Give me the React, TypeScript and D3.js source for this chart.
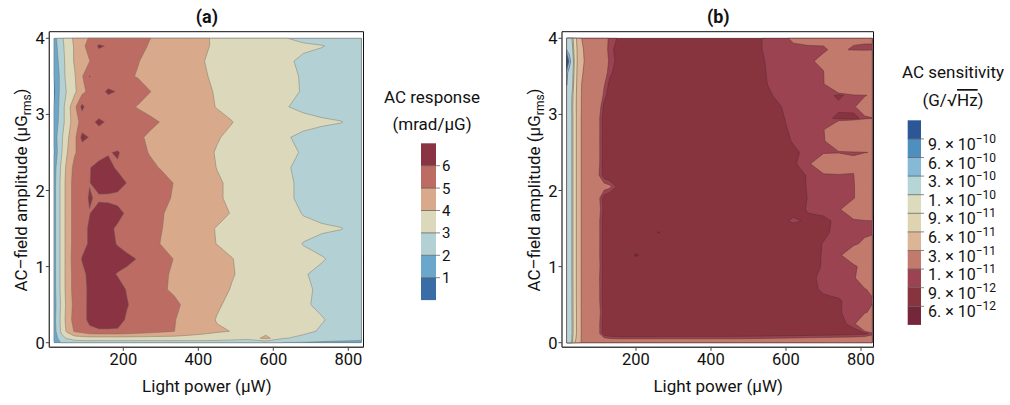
import React from "react";
import * as d3 from "d3";

// ---------------- Panel (a): AC response (mrad/µG) ----------------
const powerA = [15, 25, 35, 50, 70, 90, 110, 135, 160, 185, 210, 240, 270, 300, 335, 370, 410, 450, 490, 530, 580, 630, 680, 730, 780, 835];
const fieldA = [0, 0.06, 0.15, 0.3, 0.5, 0.7, 0.9, 1.1, 1.3, 1.5, 1.7, 1.9, 2.1, 2.3, 2.5, 2.7, 2.9, 3.1, 3.3, 3.5, 3.7, 3.9, 4.0];
const responseA = [
  [0.9, 1.6, 2.1, 2.3, 2.4, 2.5, 2.5, 2.5, 2.5, 2.5, 2.5, 2.5, 2.5, 2.5, 2.5, 2.5, 2.5, 2.5, 2.4, 2.3, 2.2, 1.95, 1.9, 1.8, 1.7, 1.6],
  [1.2, 2.0, 2.7, 3.1, 3.5, 3.6, 3.6, 3.6, 3.6, 3.6, 3.6, 3.6, 3.6, 3.6, 3.6, 3.6, 3.6, 3.5, 3.4, 3.3, 4.3, 3.05, 2.8, 2.6, 2.5, 2.4],
  [1.5, 2.4, 3.2, 4.2, 5.1, 5.4, 5.8, 5.9, 5.9, 5.9, 5.8, 5.6, 5.4, 5.2, 5.02, 4.6, 4.3, 4.1, 3.98, 3.8, 3.6, 3.4, 3.2, 2.9, 2.7, 2.5],
  [1.6, 2.5, 3.3, 4.4, 5.4, 5.7, 6.2, 6.4, 6.4, 6.3, 5.9, 5.7, 5.5, 5.3, 5.05, 4.7, 4.35, 3.95, 3.8, 3.6, 3.5, 3.3, 3.15, 3.05, 2.75, 2.5],
  [1.5, 2.4, 3.2, 4.3, 5.3, 5.7, 6.2, 6.5, 6.5, 6.4, 6.05, 5.7, 5.5, 5.3, 5.15, 4.85, 4.5, 4.1, 3.8, 3.6, 3.45, 3.3, 3.1, 2.85, 2.7, 2.5],
  [1.6, 2.5, 3.3, 4.4, 5.4, 5.75, 6.15, 6.4, 6.4, 6.3, 5.95, 5.6, 5.35, 5.1, 4.9, 4.7, 4.5, 4.25, 3.95, 3.7, 3.5, 3.3, 3.1, 2.9, 2.7, 2.5],
  [1.6, 2.5, 3.3, 4.4, 5.4, 5.8, 6.2, 6.3, 6.2, 5.95, 5.8, 5.6, 5.35, 5.15, 4.9, 4.75, 4.55, 4.35, 4.05, 3.8, 3.55, 3.3, 3.05, 2.85, 2.7, 2.5],
  [1.6, 2.5, 3.3, 4.4, 5.5, 6.05, 6.3, 6.4, 6.4, 6.35, 6.2, 5.95, 5.6, 5.3, 4.98, 4.8, 4.6, 4.35, 4.02, 3.8, 3.55, 3.35, 3.15, 3.05, 2.8, 2.55],
  [1.6, 2.5, 3.3, 4.4, 5.4, 5.75, 6.1, 6.3, 6.25, 5.95, 5.7, 5.45, 5.25, 4.98, 4.7, 4.45, 4.25, 3.98, 3.8, 3.6, 3.4, 3.25, 2.98, 2.8, 2.65, 2.5],
  [1.6, 2.5, 3.3, 4.4, 5.4, 5.75, 6.1, 6.25, 6.15, 5.9, 5.7, 5.45, 5.25, 5.03, 4.8, 4.5, 4.25, 3.95, 3.75, 3.6, 3.45, 3.3, 3.15, 3.1, 3.03, 2.7],
  [1.6, 2.5, 3.3, 4.4, 5.4, 5.7, 5.98, 6.3, 6.35, 6.2, 5.9, 5.6, 5.35, 5.05, 4.85, 4.65, 4.45, 4.25, 3.95, 3.7, 3.45, 3.25, 2.97, 2.8, 2.65, 2.5],
  [1.6, 2.5, 3.3, 4.4, 5.4, 5.8, 6.05, 5.9, 5.85, 5.8, 5.7, 5.5, 5.35, 5.15, 4.95, 4.7, 4.4, 4.1, 3.85, 3.6, 3.35, 3.1, 2.9, 2.75, 2.6, 2.5],
  [1.6, 2.5, 3.3, 4.4, 5.4, 5.7, 5.98, 6.3, 6.4, 6.3, 5.98, 5.7, 5.5, 5.3, 4.98, 4.7, 4.4, 4.1, 3.85, 3.6, 3.4, 3.1, 2.9, 2.75, 2.6, 2.5],
  [1.5, 2.4, 3.2, 4.3, 5.3, 5.65, 5.97, 6.25, 6.2, 5.9, 5.7, 5.45, 5.2, 4.95, 4.75, 4.55, 4.35, 3.98, 3.75, 3.55, 3.35, 3.05, 2.9, 2.75, 2.6, 2.5],
  [0.9, 2.1, 2.9, 3.95, 4.9, 5.4, 5.6, 5.7, 5.95, 6.08, 5.7, 5.3, 4.95, 4.8, 4.6, 4.4, 4.2, 3.95, 3.75, 3.55, 3.35, 3.15, 2.95, 2.75, 2.6, 2.5],
  [1.2, 2.2, 2.8, 3.8, 4.7, 6.3, 5.95, 5.6, 5.5, 5.4, 5.25, 5.1, 4.9, 4.75, 4.6, 4.45, 4.3, 4.05, 3.85, 3.6, 3.35, 3.05, 2.9, 2.75, 2.6, 2.5],
  [1.3, 1.9, 2.6, 3.4, 4.6, 5.3, 5.8, 6.15, 5.9, 5.7, 5.5, 5.3, 5.15, 4.98, 4.8, 4.6, 4.4, 4.2, 4.02, 3.75, 3.5, 3.25, 3.15, 3.1, 3.03, 2.7],
  [1.0, 1.8, 2.5, 3.5, 4.7, 6.3, 5.3, 5.5, 5.45, 5.35, 5.15, 4.95, 4.8, 4.65, 4.5, 4.35, 4.2, 3.97, 3.8, 3.6, 3.35, 3.03, 2.9, 2.75, 2.6, 2.5],
  [0.8, 1.7, 2.4, 3.1, 3.8, 4.7, 5.3, 5.7, 6.15, 5.95, 5.6, 5.3, 5.02, 4.85, 4.7, 4.5, 4.25, 3.9, 3.75, 3.6, 3.4, 3.2, 2.95, 2.8, 2.65, 2.5],
  [1.0, 1.6, 2.5, 3.3, 3.9, 4.9, 6.05, 5.5, 5.4, 5.25, 5.1, 4.95, 4.8, 4.65, 4.5, 4.35, 4.1, 3.85, 3.7, 3.55, 3.35, 3.15, 2.95, 2.8, 2.65, 2.5],
  [1.3, 1.9, 2.6, 3.3, 4.1, 4.6, 4.98, 5.35, 5.5, 5.4, 5.2, 5.02, 4.85, 4.7, 4.55, 4.35, 4.03, 3.85, 3.7, 3.55, 3.35, 3.1, 2.9, 2.75, 2.6, 2.5],
  [1.4, 2.1, 2.7, 3.4, 4.1, 4.8, 5.3, 6.15, 5.9, 5.6, 5.4, 5.2, 4.95, 4.8, 4.6, 4.4, 4.1, 3.9, 3.75, 3.6, 3.4, 3.3, 3.1, 3.03, 2.8, 2.6],
  [1.5, 2.2, 2.8, 3.5, 4.2, 4.8, 5.05, 5.3, 5.35, 5.3, 5.2, 5.1, 5.02, 4.85, 4.65, 4.45, 4.1, 3.9, 3.75, 3.55, 3.3, 3.03, 2.85, 2.7, 2.6, 2.5],
];
const levelsA = [1, 2, 3, 4, 5, 6];
const colorsA = ["#3a6da6", "#6ba7cb", "#b3d1d4", "#dcd8bb", "#d8a98a", "#bd6c64", "#8a3443"];
const legendLabelsA = ["1", "2", "3", "4", "5", "6"];

// ---------------- Panel (b): AC sensitivity (units of 1e-12 G/√Hz) ----------------
const powerB = [15, 22, 30, 38, 46, 55, 70, 85, 100, 115, 130, 160, 200, 260, 320, 400, 480, 540, 580, 620, 660, 700, 740, 780, 810, 830];
const fieldB = [0, 0.05, 0.12, 0.25, 0.4, 0.55, 0.7, 0.85, 1.0, 1.15, 1.3, 1.45, 1.6, 1.75, 1.9, 2.05, 2.2, 2.35, 2.5, 2.65, 2.8, 2.95, 3.1, 3.25, 3.4, 3.55, 3.7, 3.85, 4.0];
const sensitivityB = [
  [200, 140, 90, 55, 38, 28, 22, 20, 19, 19, 19, 19, 19, 19, 19, 19, 19, 19, 19, 19, 19, 19, 19, 19, 19, 19],
  [180, 130, 95, 65, 42, 28, 20, 15, 12, 10.5, 10.2, 10.1, 10.1, 10.1, 10.1, 10.1, 10.1, 10.2, 10.3, 10.4, 10.5, 10.6, 10.7, 10.8, 11, 12],
  [170, 130, 98, 70, 45, 28, 20, 14, 10.5, 8.3, 7.7, 7.5, 7.5, 7.6, 7.7, 7.7, 7.8, 7.9, 8.0, 8.1, 8.2, 8.3, 8.4, 8.6, 8.7, 9.3],
  [165, 130, 98, 70, 45, 28, 20, 14, 10.5, 8.2, 7.6, 7.4, 7.5, 7.5, 7.6, 7.7, 7.7, 7.8, 7.9, 8.0, 8.2, 8.4, 8.7, 9.3, 14, 20],
  [160, 128, 97, 70, 45, 28, 20, 14, 10.8, 8.4, 7.7, 7.5, 7.5, 7.6, 7.6, 7.7, 7.8, 7.9, 8.0, 8.2, 8.4, 8.7, 8.9, 9.4, 9.6, 10.8],
  [158, 127, 97, 69, 44, 28, 20, 14, 10.5, 8.2, 7.6, 7.4, 7.5, 7.5, 7.6, 7.6, 7.7, 7.8, 7.9, 8.1, 8.4, 8.7, 8.85, 9.5, 9.6, 9.7],
  [158, 127, 97, 69, 44, 28, 20, 14, 10.5, 8.2, 7.6, 7.5, 7.5, 7.6, 7.6, 7.7, 7.8, 7.9, 8.1, 8.3, 8.6, 9.2, 9.5, 9.6, 9.8, 10.6],
  [155, 126, 96, 69, 44, 28, 20, 14, 10.4, 8.3, 7.6, 7.5, 7.5, 7.5, 7.6, 7.6, 7.7, 7.9, 8.0, 8.3, 8.7, 9.3, 9.5, 9.6, 12, 18],
  [155, 126, 96, 69, 44, 28, 20, 14, 10.6, 8.3, 7.6, 7.5, 7.4, 7.5, 7.6, 7.6, 7.7, 7.8, 8.0, 8.2, 8.6, 9.1, 9.4, 9.5, 11, 18],
  [155, 126, 96, 69, 44, 28, 20, 14, 10.5, 8.2, 7.6, 7.4, 5.8, 7.4, 7.5, 7.6, 7.7, 7.8, 7.9, 8.2, 8.5, 9.1, 9.5, 12, 18, 20],
  [155, 126, 96, 69, 44, 28, 20, 14, 10.5, 8.3, 7.7, 7.5, 7.5, 7.5, 7.5, 7.6, 7.7, 7.8, 8.0, 8.2, 8.6, 9.05, 9.4, 9.6, 10.5, 11],
  [155, 126, 96, 69, 44, 28, 20, 14, 10.5, 8.3, 7.6, 7.5, 7.5, 5.9, 7.5, 7.6, 7.7, 7.8, 7.9, 8.1, 8.4, 8.8, 9.3, 9.5, 9.6, 9.7],
  [155, 126, 96, 69, 44, 28, 20, 14, 10.5, 8.2, 7.6, 7.5, 7.5, 7.5, 7.6, 7.6, 7.7, 8.0, 8.6, 9.2, 8.8, 8.7, 9.3, 9.5, 9.6, 9.8],
  [155, 126, 96, 69, 44, 28, 20, 14, 10.8, 8.5, 7.7, 7.5, 7.5, 7.5, 7.6, 7.7, 7.8, 7.9, 8.2, 8.6, 9.1, 9.4, 9.5, 13, 20, 20],
  [155, 126, 96, 69, 44, 28, 20, 14, 10.5, 8.3, 7.6, 7.5, 7.5, 7.5, 7.6, 7.7, 7.8, 7.9, 8.1, 8.5, 9.05, 9.4, 9.5, 9.8, 12, 14],
  [155, 126, 96, 69, 44, 28, 20, 14, 11, 10.8, 10.4, 8.0, 7.5, 7.5, 7.6, 7.7, 7.8, 7.9, 8.1, 8.5, 9.1, 9.4, 9.5, 9.7, 13, 18],
  [155, 126, 96, 69, 44, 28, 20, 14, 10.2, 8.3, 7.7, 7.5, 7.5, 7.5, 7.6, 7.7, 7.8, 7.9, 8.2, 8.6, 9.1, 9.4, 9.5, 9.8, 16, 20],
  [155, 126, 96, 69, 44, 28, 20, 14, 10.5, 8.2, 7.6, 7.5, 7.5, 7.5, 7.6, 7.7, 7.8, 8.0, 8.4, 8.9, 9.4, 14, 16, 11, 16, 20],
  [155, 126, 96, 69, 44, 28, 20, 14, 10.5, 8.3, 7.7, 7.5, 7.5, 7.6, 7.6, 7.7, 7.8, 8.0, 8.3, 8.8, 9.3, 9.6, 9.7, 9.6, 9.8, 10.3],
  [155, 126, 96, 69, 44, 28, 20, 14, 10.5, 8.2, 7.6, 7.5, 7.5, 7.5, 7.6, 7.7, 7.8, 8.1, 8.5, 9.1, 9.4, 9.7, 13, 18, 20, 20],
  [155, 126, 96, 69, 44, 28, 20, 14, 10.5, 8.3, 7.7, 7.5, 7.5, 7.5, 7.6, 7.7, 7.8, 8.2, 8.7, 9.2, 9.5, 9.8, 15, 18, 18, 20],
  [155, 126, 96, 69, 44, 28, 20, 14, 10.5, 8.2, 7.6, 7.5, 7.5, 7.5, 7.6, 7.7, 7.9, 8.3, 8.8, 9.3, 9.5, 9.6, 8.6, 8.5, 9.5, 9.8],
  [150, 124, 95, 68, 44, 29, 21, 15, 11, 8.6, 7.8, 7.5, 7.5, 7.5, 7.6, 7.7, 7.9, 8.4, 8.9, 9.4, 9.6, 9.7, 9.4, 9.6, 12, 16],
  [160, 130, 97, 69, 44, 29, 21, 15, 12, 9.5, 8.2, 7.6, 7.5, 7.6, 7.6, 7.7, 8.0, 8.7, 9.2, 9.5, 9.6, 9.7, 8.7, 9.6, 9.8, 10.5],
  [320, 150, 105, 72, 46, 30, 22, 16, 12, 10.2, 8.6, 7.7, 7.5, 7.6, 7.6, 7.8, 8.1, 8.9, 9.3, 9.5, 9.6, 9.8, 15, 20, 22, 22],
  [400, 170, 110, 75, 48, 32, 24, 17, 13, 11, 9.3, 8.0, 7.6, 7.6, 7.7, 7.8, 8.2, 8.9, 9.5, 9.6, 9.7, 9.9, 16, 20, 22, 22],
  [1400, 500, 115, 78, 50, 34, 25, 18, 14, 11.5, 9.6, 8.3, 7.7, 7.6, 7.7, 7.8, 8.3, 8.95, 9.5, 9.6, 9.7, 10.5, 16, 20, 20, 20],
  [300, 160, 105, 75, 50, 33, 24, 17, 13, 11, 9.4, 8.2, 7.7, 7.6, 7.7, 7.8, 8.3, 9.05, 9.4, 9.6, 9.7, 9.8, 10.5, 9.7, 9.6, 9.7],
  [170, 130, 98, 70, 46, 30, 22, 16, 12, 10.5, 9.8, 8.5, 7.8, 7.6, 7.6, 7.8, 8.3, 9.05, 9.4, 10.3, 10.5, 10.4, 10.6, 10.5, 10.4, 10.3],
];
const levelsB = [6, 9, 10, 30, 60, 90, 100, 300, 600, 900];
const colorsB = ["#76263a", "#88343f", "#9b4350", "#c27a6c", "#dcb596", "#dfd4b1", "#dddbbe", "#b6d5d6", "#86b9d6", "#4f8fc0", "#2b5797"];
const legendMantissaB = ["6", "9", "1", "3", "6", "9", "1", "3", "6", "9"];
const legendExponentB = ["12", "12", "11", "11", "11", "11", "10", "10", "10", "10"];

const xTicks = [200, 400, 600, 800];
const yTicks = [0, 1, 2, 3, 4];

const FONT = "Roboto, 'Open Sans', sans-serif";

type PanelProps = {
  ox: number;
  frameRight: number;
  xs: number[];
  ys: number[];
  z: number[][];
  levels: number[];
  colors: string[];
  title: string;
  stroke: string;
};

function Panel({ ox, frameRight, xs, ys, z, levels, colors, title, stroke }: PanelProps) {
  const xScale = d3.scaleLinear().domain([0, 800]).range([ox + 48.3, ox + 348.3]);
  const yScale = d3.scaleLinear().domain([0, 4]).range([342.7, 38.3]);
  const nx = xs.length;
  const ny = ys.length;
  const flat = z.flat();
  const contours = d3.contours().size([nx, ny]).thresholds(levels)(flat);
  const ix = d3.scaleLinear().domain(d3.range(nx)).range(xs).clamp(true);
  const iy = d3.scaleLinear().domain(d3.range(ny)).range(ys).clamp(true);
  const proj = d3.geoTransform({
    point(px: number, py: number) {
      (this as any).stream.point(xScale(ix(px - 0.5)), yScale(iy(py - 0.5)));
    },
  });
  const path = d3.geoPath(proj);
  const fl = ox + 49.3;
  const fr = frameRight;
  const ft = 31.7;
  const fb = 347.3;
  const cx = (fl + fr) / 2 + 0.5;
  return (
    <g>
      <rect
        x={xScale(xs[0])}
        y={yScale(ys[ny - 1])}
        width={xScale(xs[nx - 1]) - xScale(xs[0])}
        height={yScale(ys[0]) - yScale(ys[ny - 1])}
        fill={colors[0]}
      />
      {contours.map((c, i) => (
        <path key={i} d={path(c as any) || ""} fill={colors[i + 1]} stroke={stroke} strokeWidth={0.6} strokeOpacity={0.7} />
      ))}
      <line x1={fl} x2={fr} y1={ft} y2={ft} stroke="#111" strokeWidth={1} />
      <line x1={fr} x2={fr} y1={ft} y2={fb} stroke="#111" strokeWidth={1} />
      <line x1={fl} x2={fl} y1={ft} y2={fb} stroke="#444" strokeWidth={1.4} />
      <line x1={fl} x2={fr} y1={fb} y2={fb} stroke="#444" strokeWidth={1.4} />
      {xTicks.map((t) => (
        <g key={t}>
          <line x1={xScale(t)} x2={xScale(t)} y1={fb} y2={fb + 3.5} stroke="#444" strokeWidth={1} />
          <text x={xScale(t)} y={364.5} textAnchor="middle" fontSize={16.5} fill="#111" fontFamily={FONT}>
            {t}
          </text>
        </g>
      ))}
      {yTicks.map((t) => (
        <g key={t}>
          <line x1={fl - 3.5} x2={fl} y1={yScale(t)} y2={yScale(t)} stroke="#444" strokeWidth={1} />
          <text x={fl - 4.5} y={yScale(t) + 6} textAnchor="end" fontSize={16.5} fill="#111" fontFamily={FONT}>
            {t}
          </text>
        </g>
      ))}
      <text x={cx} y={392} textAnchor="middle" fontSize={17} fill="#111" fontFamily={FONT}>
        Light power (μW)
      </text>
      <text
        transform={`translate(${ox + 27},${190}) rotate(-90)`}
        textAnchor="middle"
        fontSize={17}
        fill="#111"
        fontFamily={FONT}
      >
        AC–field amplitude (μG
        <tspan fontSize={12} dy={4}>rms</tspan>
        <tspan dy={-4}>)</tspan>
      </text>
      <text x={cx} y={23} textAnchor="middle" fontSize={18} fontWeight="bold" fill="#111" fontFamily={FONT}>
        {title}
      </text>
    </g>
  );
}

function LegendA() {
  const top = 143.3;
  const bandH = 22.4;
  const x = 421;
  const w = 15;
  const n = colorsA.length;
  const yb = d3.scaleLinear().domain([0, n]).range([top + n * bandH, top]);
  return (
    <g fontFamily={FONT} fill="#111">
      <text x={432} y={103} textAnchor="middle" fontSize={17}>AC response</text>
      <text x={432} y={130} textAnchor="middle" fontSize={17}>(mrad/μG)</text>
      {colorsA.map((c, i) => (
        <rect key={i} x={x} y={yb(i + 1)} width={w} height={bandH} fill={c} />
      ))}
      {legendLabelsA.map((l, i) => (
        <g key={l}>
          <line x1={x} x2={x + w + 4} y1={yb(i + 1)} y2={yb(i + 1)} stroke="#555" strokeWidth={0.7} />
          <text x={x + w + 6} y={yb(i + 1) + 5.5} fontSize={15}>{l}</text>
        </g>
      ))}
    </g>
  );
}

function LegendB() {
  const top = 120.3;
  const bandH = 18.6;
  const x = 907.7;
  const w = 13.3;
  const n = colorsB.length;
  const yb = d3.scaleLinear().domain([0, n]).range([top + n * bandH, top]);
  return (
    <g fontFamily={FONT} fill="#111">
      <text x={953} y={78} textAnchor="middle" fontSize={17}>AC sensitivity</text>
      <text x={953} y={106} textAnchor="middle" fontSize={17}>
        (G/√<tspan textDecoration="overline">Hz</tspan>)
      </text>
      {colorsB.map((c, i) => (
        <rect key={i} x={x} y={yb(i + 1)} width={w} height={bandH} fill={c} />
      ))}
      {legendMantissaB.map((m, i) => (
        <g key={i}>
          <line x1={x} x2={x + w + 3} y1={yb(i + 1)} y2={yb(i + 1)} stroke="#555" strokeWidth={0.7} />
          <text x={x + w + 7} y={yb(i + 1) + 11} fontSize={16}>
            {m}. × 10
            <tspan fontSize={12} dy={-7}>−{legendExponentB[i]}</tspan>
          </text>
        </g>
      ))}
    </g>
  );
}

export default function App() {
  return (
    <svg
      width={1010}
      height={405}
      viewBox="0 0 1010 405"
      style={{ position: "absolute", left: 0, top: 0, background: "#fff" }}
    >
      <rect x={0} y={0} width={1010} height={405} fill="#fff" />
      <Panel
        ox={0}
        frameRight={363.5}
        xs={powerA}
        ys={fieldA}
        z={responseA}
        levels={levelsA}
        colors={colorsA}
        title="(a)"
        stroke="#6e6a5e"
      />
      <LegendA />
      <Panel
        ox={512.7}
        frameRight={873.5}
        xs={powerB}
        ys={fieldB}
        z={sensitivityB}
        levels={levelsB}
        colors={colorsB}
        title="(b)"
        stroke="#4a2a30"
      />
      <LegendB />
    </svg>
  );
}
